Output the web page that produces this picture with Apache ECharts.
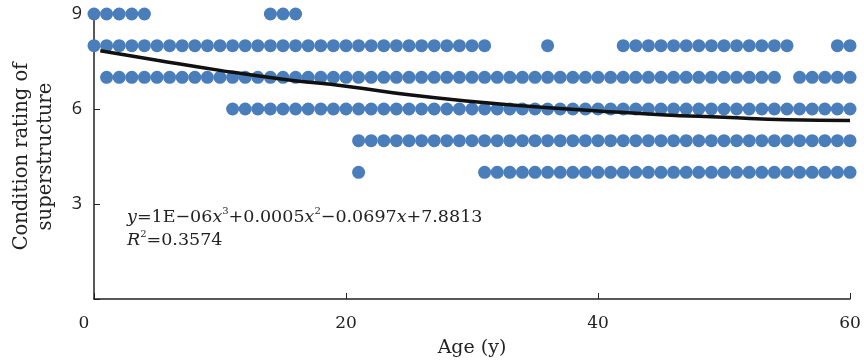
<!DOCTYPE html>
<html><head><meta charset="utf-8">
<script src="https://cdn.jsdelivr.net/npm/echarts@6/dist/echarts.min.js"></script>
<style>html,body{margin:0;padding:0;background:#fff}#c{width:864px;height:363px}</style>
</head><body><div id="c"></div>
<script>
// Ages (years) observed for each condition rating
const ages9 = [0,1,2,3,4,14,15,16];
const ages8 = [0,1,2,3,4,5,6,7,8,9,10,11,12,13,14,15,16,17,18,19,20,21,22,23,24,25,26,27,28,29,30,31,36,42,43,44,45,46,47,48,49,50,51,52,53,54,55,59,60];
const ages7 = [1,2,3,4,5,6,7,8,9,10,11,12,13,14,15,16,17,18,19,20,21,22,23,24,25,26,27,28,29,30,31,32,33,34,35,36,37,38,39,40,41,42,43,44,45,46,47,48,49,50,51,52,53,54,56,57,58,59,60];
const ages6 = [11,12,13,14,15,16,17,18,19,20,21,22,23,24,25,26,27,28,29,30,31,32,33,34,35,36,37,38,39,40,41,42,43,44,45,46,47,48,49,50,51,52,53,54,55,56,57,58,59,60];
const ages5 = [21,22,23,24,25,26,27,28,29,30,31,32,33,34,35,36,37,38,39,40,41,42,43,44,45,46,47,48,49,50,51,52,53,54,55,56,57,58,59,60];
const ages4 = [21,31,32,33,34,35,36,37,38,39,40,41,42,43,44,45,46,47,48,49,50,51,52,53,54,55,56,57,58,59,60];
const ratings = [9,8,7,6,5,4];
// Trend line
const trendX = [0.5,5,10,15,20,25,30,35,40,45,50,55,60];
const trendY = [7.84,7.54,7.22,6.94,6.72,6.45,6.24,6.07,5.94,5.82,5.74,5.66,5.64];
const xTicks = [0,20,40,60];
const yTicks = [3,6,9];

const groups = [ages9,ages8,ages7,ages6,ages5,ages4];
const pts = [];
groups.forEach((g,i)=>g.forEach(a=>pts.push([a, ratings[i]])));

const chart = echarts.init(document.getElementById('c'), null, {renderer:'canvas'});
const serif = '"DejaVu Serif","Liberation Serif",serif';
const sans = '"Open Sans","DejaVu Sans",sans-serif';
chart.setOption({
  animation:false,
  grid:{left:94,right:14,top:14,bottom:63},
  xAxis:{
    type:'value',min:0,max:60,interval:20,
    name:'Age (y)',nameLocation:'middle',nameGap:40,
    nameTextStyle:{fontFamily:serif,fontSize:19,color:'#222'},
    axisLine:{show:true,lineStyle:{color:'#222',width:1.5}},
    axisTick:{show:true,inside:true,length:6,lineStyle:{color:'#222'}},
    splitLine:{show:false},
    axisLabel:{margin:16,fontFamily:serif,fontSize:17,color:'#222',
      formatter:v=> v===0 ? '{a|0}' : String(v),
      rich:{a:{fontFamily:serif,fontSize:17,color:'#222',padding:[0,20,0,0]}}}
  },
  yAxis:{
    type:'value',min:0,max:9,interval:3,
    name:'Condition rating of\nsuperstructure',nameLocation:'middle',nameGap:36,
    nameTextStyle:{fontFamily:serif,fontSize:19.5,color:'#222',lineHeight:24},
    axisLine:{show:true,lineStyle:{color:'#222',width:1.5}},
    axisTick:{show:true,inside:true,length:6,lineStyle:{color:'#222'}},
    splitLine:{show:false},
    axisLabel:{margin:12,fontFamily:sans,fontSize:18,color:'#222',
      formatter:v=> yTicks.includes(v) ? String(v) : ''}
  },
  series:[
    {type:'scatter',data:pts,symbolSize:13,itemStyle:{color:'#4a7ebb',opacity:1},z:2},
    {type:'line',data:trendX.map((x,i)=>[x,trendY[i]]),smooth:true,symbol:'none',
     lineStyle:{color:'#111',width:3.5},z:3}
  ],
  graphic:[{
    type:'text',left:127,top:206,
    style:{
      text:'{i|y}=1E−06{i|x}{s|3}+0.0005{i|x}{s|2}−0.0697{i|x}+7.8813\n{i|R}{s|2}=0.3574',
      font:'17.5px '+serif,fill:'#222',lineHeight:23,
      rich:{
        i:{fontStyle:'italic',fontFamily:serif,fontSize:17.5,fill:'#222'},
        s:{fontFamily:serif,fontSize:10,fill:'#222',verticalAlign:'top',padding:[0,0,8,0]}
      }
    }
  }]
});
</script></body></html>
